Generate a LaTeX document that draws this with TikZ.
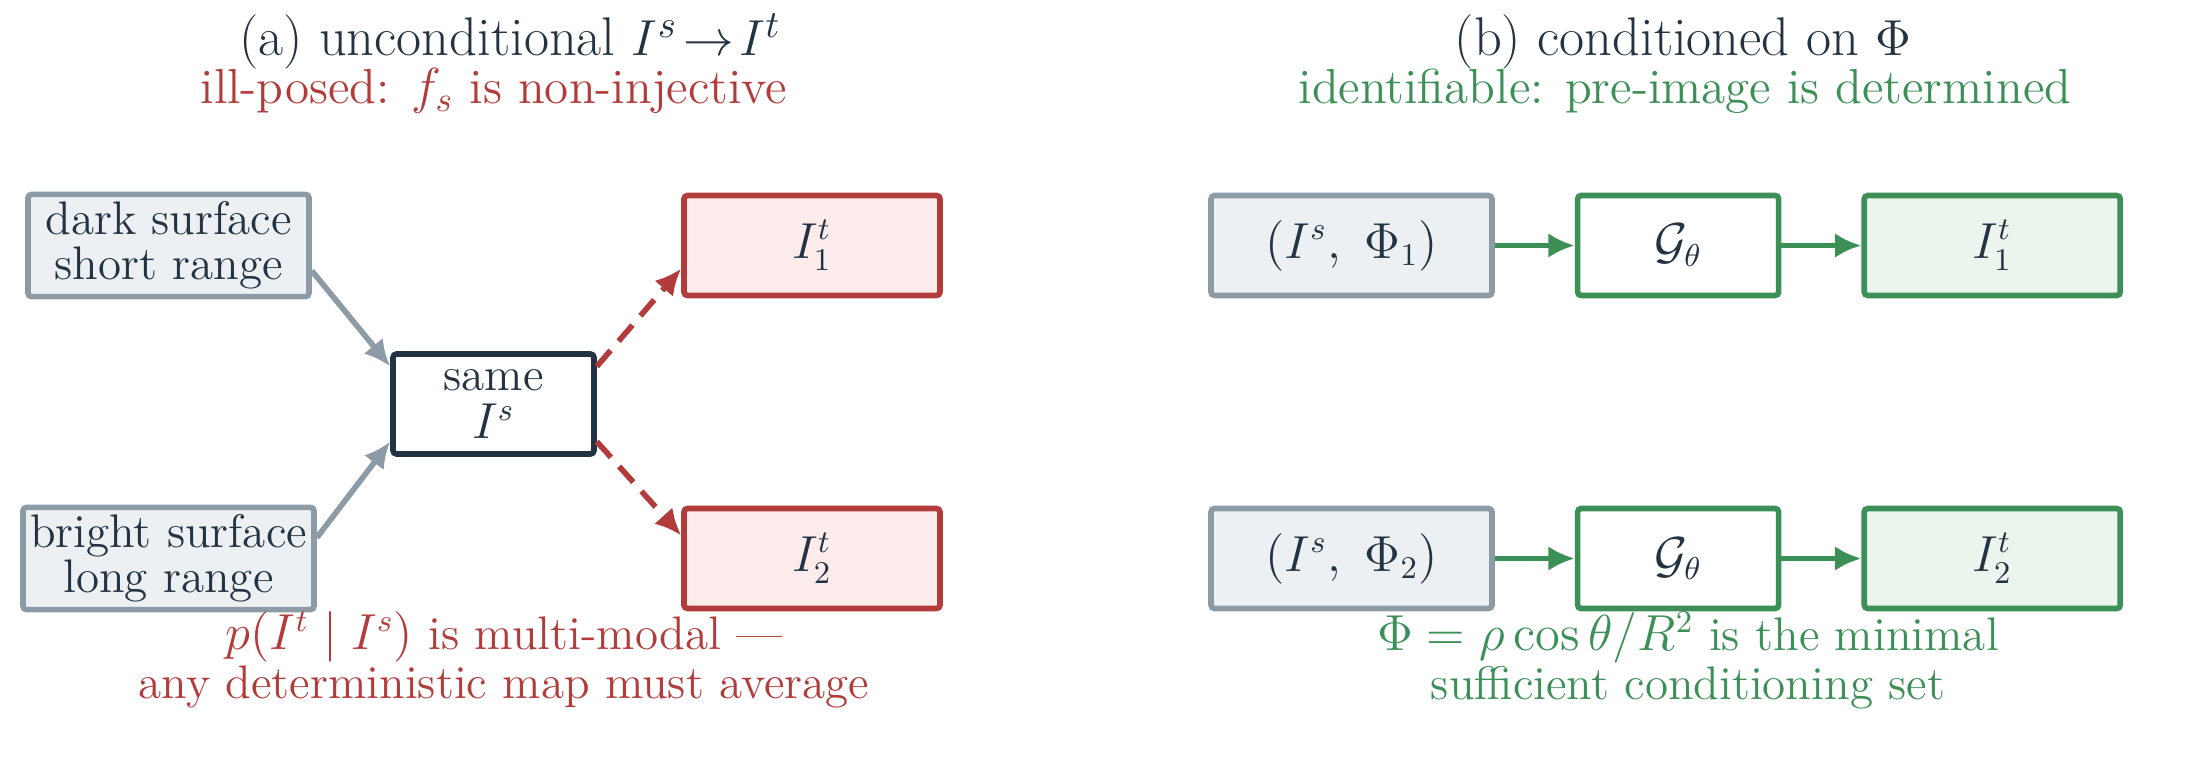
\documentclass[tikz,border=0pt]{standalone}
\usepackage{amsmath}
\usepackage{amssymb}
\usepackage{tikz}
\usepackage{xcolor}
\usetikzlibrary{positioning,arrows.meta}
\definecolor{ink}{HTML}{243342}
\definecolor{slate}{HTML}{8D9BA7}
\definecolor{slate-fill}{HTML}{ECF0F3}
\definecolor{bad}{HTML}{B23B3B}
\definecolor{bad-fill}{HTML}{FBEBEB}
\definecolor{good}{HTML}{3D8F58}
\definecolor{good-fill}{HTML}{EBF5EE}
\tikzset{
    box/.style = {rectangle, rounded corners=1pt, line width=1.6pt, minimum height=1cm, inner sep=2pt, align=center, text=ink, font=\fontsize{13.4}{12.9}\selectfont},
    input-box/.style = {box, draw=slate, fill=slate-fill, minimum width=2.81cm},
    same-box/.style = {box, draw=ink, fill=white, minimum width=2.01cm},
    bad-box/.style = {box, draw=bad, fill=bad-fill, minimum width=2.56cm},
    net-box/.style = {box, draw=good, fill=white, minimum width=2.01cm},
    good-box/.style = {box, draw=good, fill=good-fill, minimum width=2.56cm},
    panel-title/.style = {anchor=base, text=ink, font=\fontsize{15.5}{18}\selectfont},
    panel-sub/.style = {anchor=base, font=\fontsize{14}{16}\selectfont},
    panel-note/.style = {anchor=north, inner sep=0pt, align=center, font=\fontsize{13.4}{12.8}\selectfont},
    feed-arrow/.style = {draw=slate, line width=1.6pt, -{Latex[length=7.5pt,width=7pt]}},
    bad-arrow/.style = {draw=bad, line width=1.6pt, dash pattern=on 6pt off 3.5pt, -{Latex[length=7.5pt,width=7pt]}},
    good-arrow/.style = {draw=good, line width=1.6pt, -{Latex[length=7.5pt,width=7pt]}},
}
\begin{document}
\begin{tikzpicture}
\useasboundingbox (0,0) rectangle (21.86,-7.71);

% (a) unconditional
\node[panel-title] (title-a) at (5.1,-0.56) {(a) unconditional $I^s\!\to\! I^t$};
\node[panel-sub, text=bad] (sub-a) at (4.94,-1.04) {ill-posed: $f_s$ is non-injective};

\node[input-box] (dark) at (1.685,-2.455) {dark surface\\short range};
\node[input-box] (bright) at (1.685,-5.585) {bright surface\\long range};
\node[same-box] (same) at (4.935,-4.04) {same\\[1pt]$I^s$};
\node[bad-box] (out-a1) at (8.12,-2.455) {$I^t_1$};
\node[bad-box] (out-a2) at (8.12,-5.585) {$I^t_2$};

\draw[feed-arrow] (dark.-10) -- (same.160);
\draw[feed-arrow] (bright.8) -- (same.200);
\draw[bad-arrow] (same.20) -- (out-a1.190);
\draw[bad-arrow] (same.-20) -- (out-a2.170);

\node[panel-note, text=bad] (note-a) at (5.04,-6.11) {$p(I^t \mid I^s)$ is multi-modal ---\\any deterministic map must average};

% (b) conditioned
\node[panel-title] (title-b) at (16.83,-0.56) {(b) conditioned on $\Phi$};
\node[panel-sub, text=good] (sub-b) at (16.85,-1.04) {identifiable: pre-image is determined};

\node[input-box] (pair-1) at (13.515,-2.455) {$(I^s,\ \Phi_1)$};
\node[net-box, right=0.8cm of pair-1] (net-1) {$\mathcal{G}_\theta$};
\node[good-box, right=0.8cm of net-1] (out-b1) {$I^t_1$};

\node[input-box] (pair-2) at (13.515,-5.585) {$(I^s,\ \Phi_2)$};
\node[net-box, right=0.8cm of pair-2] (net-2) {$\mathcal{G}_\theta$};
\node[good-box, right=0.8cm of net-2] (out-b2) {$I^t_2$};

\draw[good-arrow] (pair-1) -- (net-1);
\draw[good-arrow] (net-1) -- (out-b1);
\draw[good-arrow] (pair-2) -- (net-2);
\draw[good-arrow] (net-2) -- (out-b2);

\node[panel-note, text=good] (note-b) at (16.88,-6.11) {$\Phi = \rho\cos\theta/R^2$ is the minimal\\sufficient conditioning set};
\end{tikzpicture}
\end{document}
